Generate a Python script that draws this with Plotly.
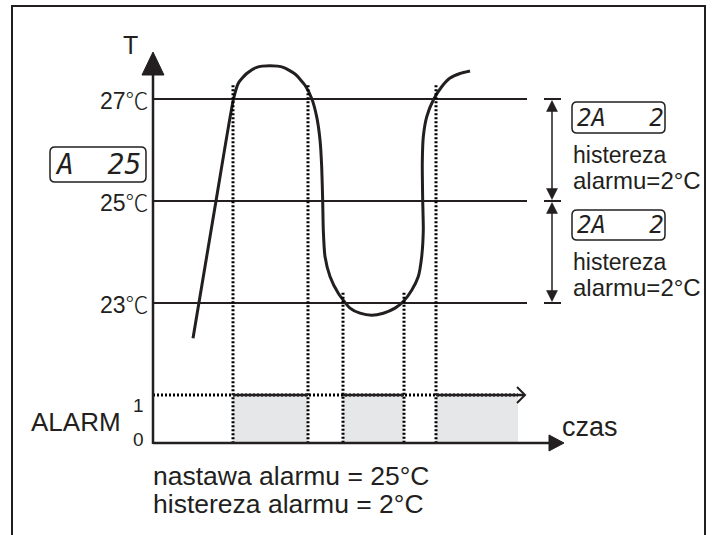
import plotly.graph_objects as go

W, H = 716, 535

# ---------------- data ----------------
setpoint = 25          # nastawa alarmu [°C]
hysteresis = 2         # histereza alarmu [°C]
thresholds = [23, 25, 27]
threshold_labels = ["23", "25", "27"]

time_pts = [4.0, 6.3, 8.03, 8.53, 9.37, 10.37, 11.7, 13.03, 14.2, 15.2, 15.87,
            16.37, 16.7, 16.87, 16.97, 17.03, 17.2, 17.7, 18.53, 19.7, 20.7,
            21.87, 23.03, 24.2, 25.03, 25.87, 26.53, 26.87, 27.03, 26.97, 26.93,
            27.03, 27.37, 28.03, 28.87, 29.7, 30.7, 31.7]
temp_pts = [22.31, 25.0, 26.98, 27.31, 27.50, 27.62, 27.65, 27.62, 27.49, 27.27, 27.01,
            26.65, 26.20, 25.67, 24.99, 24.43, 23.91, 23.52, 23.19, 22.90, 22.80,
            22.76, 22.80, 22.90, 23.03, 23.25, 23.52, 23.91, 24.43, 25.02, 25.74,
            26.26, 26.65, 26.98, 27.24, 27.41, 27.50, 27.55]

alarm_on = [8.0, 19.0, 28.3]
alarm_off = [15.5, 25.1, 36.5]
edge_times = [8.0, 15.5, 19.0, 25.1, 28.3]
edge_tops = [27.27, 27.27, 23.2, 23.2, 27.27]
alarm_levels = [0, 1]
time_end = 37.4

# ---------------- mapping (layout) ----------------
X0_PX, PX_PER_T = 153, 10
Y_SET_PX, PX_PER_DEG = 201, 51
A0_PX, PX_PER_A = 443, 48

INK = "#231f20"
GREY = "#e6e7e8"
SANS = "Liberation Sans, Arial, sans-serif"
MONO = "DejaVu Sans Mono, monospace"


def px_of_t(t):
    return X0_PX + t * PX_PER_T


def py_of_T(T):
    return Y_SET_PX - (T - setpoint) * PX_PER_DEG


def T_of_py(py):
    return setpoint + (Y_SET_PX - py) / PX_PER_DEG


def A_of_py(py):
    return (A0_PX - py) / PX_PER_A


def P(px, py):
    return px / W, 1 - py / H


def path_px(points, close=True):
    s = ""
    for i, (px, py) in enumerate(points):
        x, y = P(px, py)
        s += ("M" if i == 0 else "L") + f"{x:.5f},{y:.5f} "
    return s + ("Z" if close else "")


def rrect_px(x0, y0, x1, y1, r=5):
    def p(px, py):
        x, y = P(px, py)
        return f"{x:.5f},{y:.5f}"
    return (f"M{p(x0 + r, y0)} L{p(x1 - r, y0)} Q{p(x1, y0)} {p(x1, y0 + r)} "
            f"L{p(x1, y1 - r)} Q{p(x1, y1)} {p(x1 - r, y1)} L{p(x0 + r, y1)} "
            f"Q{p(x0, y1)} {p(x0, y1 - r)} L{p(x0, y0 + r)} Q{p(x0, y0)} {p(x0 + r, y0)} Z")


fig = go.Figure()

# temperature curve
fig.add_trace(go.Scatter(x=time_pts, y=temp_pts, mode="lines",
                         line=dict(color=INK, width=3, shape="spline", smoothing=0.55),
                         hoverinfo="skip", showlegend=False))
# invisible anchor on the alarm axis
fig.add_trace(go.Scatter(x=[0, 0], y=alarm_levels, yaxis="y2", mode="lines",
                         line=dict(width=0), hoverinfo="skip", showlegend=False))

shapes = []
A_BASE_T = T_of_py(A0_PX)

# grey alarm areas
for a, b in zip(alarm_on, alarm_off):
    shapes.append(dict(type="rect", xref="x", yref="y2", x0=a, x1=b, y0=0, y1=1,
                       fillcolor=GREY, line=dict(width=0), layer="below"))

# threshold lines
for T in thresholds:
    shapes.append(dict(type="line", xref="x", yref="y", x0=0, x1=time_end, y0=T, y1=T,
                       line=dict(color=INK, width=2)))

# dotted vertical edges
for t, top in zip(edge_times, edge_tops):
    shapes.append(dict(type="line", xref="x", yref="y", x0=t, x1=t, y0=top, y1=A_BASE_T,
                       line=dict(color="#000000", width=3, dash="2px,2px")))

# alarm level 1 dotted + solid segments
shapes.append(dict(type="line", xref="x", yref="y2", x0=0, x1=alarm_off[-1], y0=1, y1=1,
                   line=dict(color="#000000", width=3, dash="2px,2px")))
for a, b in zip(alarm_on, alarm_off):
    bb = b + (0.6 if b == alarm_off[-1] else 0)
    shapes.append(dict(type="line", xref="x", yref="y2", x0=a, x1=bb, y0=1, y1=1,
                       line=dict(color=INK, width=2.5)))
ex = px_of_t(alarm_off[-1])
ey = A0_PX - PX_PER_A
shapes.append(dict(type="path", xref="paper", yref="paper",
                   path=path_px([(ex - 1, ey - 8), (ex + 7, ey), (ex - 1, ey + 8)], close=False),
                   line=dict(color=INK, width=2)))

# time axis
shapes.append(dict(type="line", xref="x", yref="y2", x0=0, x1=(550 - X0_PX) / PX_PER_T, y0=0, y1=0,
                   line=dict(color=INK, width=2.5)))
shapes.append(dict(type="path", xref="paper", yref="paper",
                   path=path_px([(549, A0_PX - 8), (564, A0_PX), (549, A0_PX + 8)]),
                   fillcolor=INK, line=dict(color=INK, width=1)))
# temperature axis
shapes.append(dict(type="line", xref="x", yref="paper", x0=0, x1=0,
                   y0=P(0, A0_PX + 1)[1], y1=P(0, 74)[1], line=dict(color=INK, width=2.5)))
shapes.append(dict(type="path", xref="paper", yref="paper",
                   path=path_px([(X0_PX - 11, 75), (X0_PX, 52), (X0_PX + 11, 75)]),
                   fillcolor=INK, line=dict(color=INK, width=1)))

# frame
fx0, fy0 = P(12, 6)
fx1, fy1 = P(705, 560)
shapes.append(dict(type="rect", xref="paper", yref="paper", x0=fx0, x1=fx1, y0=fy1, y1=fy0,
                   line=dict(color=INK, width=2)))

# hysteresis dimension arrows
AX = 552
for T in thresholds:
    shapes.append(dict(type="line", xref="paper", yref="y", x0=544 / W, x1=561 / W, y0=T, y1=T,
                       line=dict(color=INK, width=2)))
for lo, hi in [(thresholds[1], thresholds[2]), (thresholds[0], thresholds[1])]:
    ytop, ybot = py_of_T(hi) + 1.5, py_of_T(lo) - 1.5
    shapes.append(dict(type="line", xref="paper", yref="paper",
                       x0=AX / W, x1=AX / W, y0=P(0, ytop + 8)[1], y1=P(0, ybot - 8)[1],
                       line=dict(color=INK, width=1.5)))
    shapes.append(dict(type="path", xref="paper", yref="paper",
                       path=path_px([(AX - 5.5, ytop + 11), (AX, ytop), (AX + 5.5, ytop + 11)]),
                       fillcolor=INK, line=dict(color=INK, width=0.5)))
    shapes.append(dict(type="path", xref="paper", yref="paper",
                       path=path_px([(AX - 5.5, ybot - 11), (AX, ybot), (AX + 5.5, ybot - 11)]),
                       fillcolor=INK, line=dict(color=INK, width=0.5)))

# display boxes
for (x0, y0, x1, y1) in [(50, 147, 146, 182), (572, 102, 665, 133), (572, 210, 665, 240)]:
    shapes.append(dict(type="path", xref="paper", yref="paper", path=rrect_px(x0, y0, x1, y1),
                       line=dict(color=INK, width=1.5)))

ann = []


def txt(text, px, py, size, xanchor="left", family=SANS, style="normal"):
    x, y = P(px, py)
    ann.append(dict(text=text, x=x, y=y, xref="paper", yref="paper", showarrow=False,
                    xanchor=xanchor, yanchor="middle",
                    font=dict(family=family, size=size, color=INK, style=style)))


# threshold labels
for T, lab in zip(thresholds, threshold_labels):
    ann.append(dict(text=f"{lab}<span style='font-family:Noto Sans CJK SC;font-weight:300'>℃</span>",
                    x=151 / W, y=T, xref="paper", yref="y", showarrow=False,
                    xanchor="right", yanchor="middle",
                    font=dict(family=SANS, size=23, color=INK)))

txt("T", 130, 45, 25, xanchor="center")
txt("A  25", 53, 165, 28, family=MONO, style="italic")
txt("2A   2", 575, 118, 24, family=MONO, style="italic")
txt("2A   2", 575, 225, 24, family=MONO, style="italic")
txt("histereza", 571, 155, 23)
txt("alarmu=2°C", 571, 180, 24)
txt("histereza", 571, 262, 23)
txt("alarmu=2°C", 571, 287, 24)
txt("ALARM", 76, 422, 26, xanchor="center")
txt(str(alarm_levels[1]), 138, 405, 19, xanchor="center")
txt(str(alarm_levels[0]), 138, 439, 19, xanchor="center")
txt("czas", 560, 427, 27)
txt(f"nastawa alarmu = {setpoint}°C", 151, 476, 26.5)
txt(f"histereza alarmu = {hysteresis}°C", 151, 504, 26.5)

fig.update_layout(
    width=W, height=H, margin=dict(l=0, r=0, t=0, b=0),
    paper_bgcolor="white", plot_bgcolor="white",
    xaxis=dict(range=[(0 - X0_PX) / PX_PER_T, (W - X0_PX) / PX_PER_T], visible=False, fixedrange=True),
    yaxis=dict(range=[T_of_py(H), T_of_py(0)], visible=False, fixedrange=True),
    yaxis2=dict(range=[A_of_py(H), A_of_py(0)], visible=False, overlaying="y", fixedrange=True),
    shapes=shapes, annotations=ann, showlegend=False,
)

fig.write_html("out.html", config={"displayModeBar": False},
               post_script="document.body.style.margin='0';document.body.style.overflow='hidden';")
